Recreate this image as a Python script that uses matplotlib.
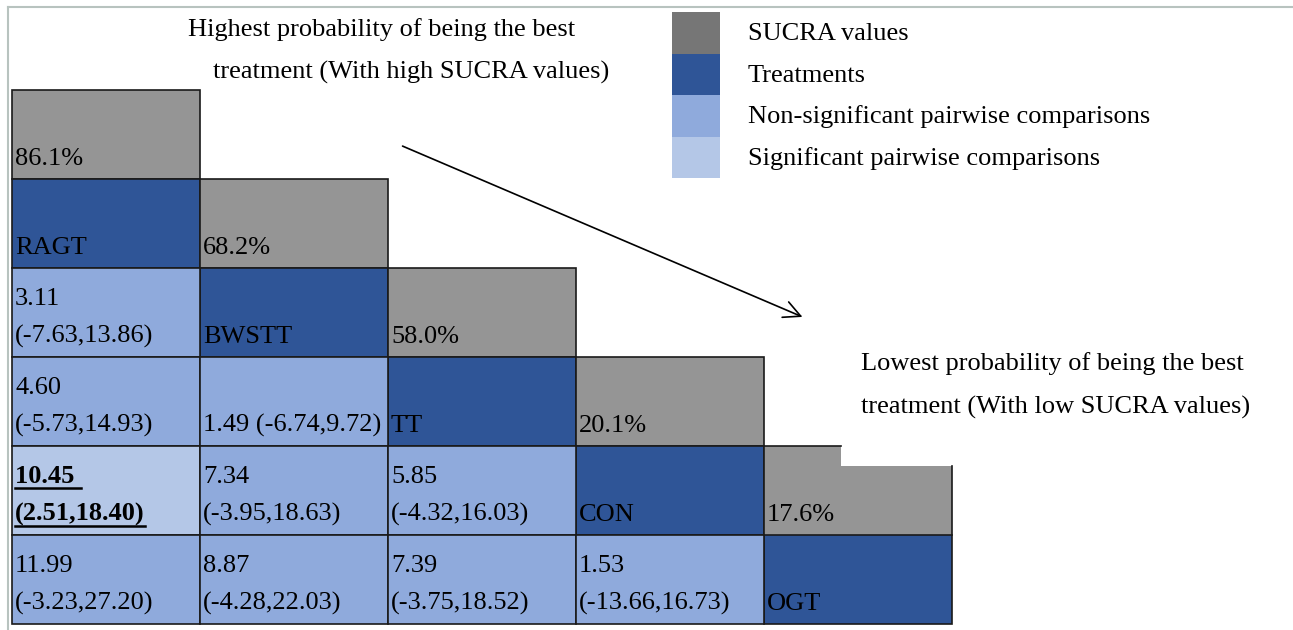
#League table (SUCRA + pairwise comparisons) drawn with matplotlib
import matplotlib.pyplot as plt
from matplotlib.patches import Rectangle, Polygon

plt.rcParams['font.family'] = ['Liberation Serif', 'DejaVu Serif']

#Data
treatments = ['RAGT', 'BWSTT', 'TT', 'CON', 'OGT']
sucra = ['86.1%', '68.2%', '58.0%', '20.1%', '17.6%']
#comparisons[(row, col)] = (mean, CI), row = treatment index, col = compared treatment
comparisons = {
    (1, 0): ('3.11', '(-7.63,13.86)'),
    (2, 0): ('4.60', '(-5.73,14.93)'),
    (2, 1): ('1.49 (-6.74,9.72)', None),
    (3, 0): ('10.45 ', '(2.51,18.40)'),
    (3, 1): ('7.34', '(-3.95,18.63)'),
    (3, 2): ('5.85', '(-4.32,16.03)'),
    (4, 0): ('11.99', '(-3.23,27.20)'),
    (4, 1): ('8.87', '(-4.28,22.03)'),
    (4, 2): ('7.39', '(-3.75,18.52)'),
    (4, 3): ('1.53', '(-13.66,16.73)'),
}
significant = [(3, 0)]
legend_labels = ['SUCRA values', 'Treatments',
                 'Non-significant pairwise comparisons', 'Significant pairwise comparisons']

#colours
c_sucra = '#959595'
c_sucra_leg = '#767676'
c_treat = '#2F5597'
c_nonsig = '#8FAADC'
c_sig = '#B4C7E7'

fig = plt.figure(figsize=(12.93, 6.30), dpi=100)
ax = fig.add_axes([0, 0, 1, 1])
ax.set_xlim(0, 1293)
ax.set_ylim(630, 0)
ax.axis('off')

x0, y0 = 12, 90
w, h = 188, 89
fs = 19

def cell(r, c, color):
    ax.add_patch(Rectangle((x0 + c * w, y0 + r * h), w, h, facecolor=color,
                           edgecolor='#1a1a1a', linewidth=1.2))

def cell_text(r, c, lines, bold=False):
    left = x0 + c * w + 3
    bottom = y0 + (r + 1) * h
    objs = []
    for k, line in enumerate(reversed(lines)):
        t = ax.text(left, bottom - 14 - k * 38, line, fontsize=fs, va='baseline', ha='left',
                    fontweight='bold' if bold else 'normal', color='black')
        objs.append(t)
    return objs

#SUCRA cells (row i, col i) and treatment cells (row i+1, col i)
for i, t in enumerate(treatments):
    if i < len(treatments) - 1:
        cell(i, i, c_sucra)
    else:
        #last sucra cell has a notch in the top right
        xl = x0 + i * w
        yt = y0 + i * h
        ax.add_patch(Polygon([(xl, yt), (xl + 77, yt), (xl + 77, yt + 20), (xl + w, yt + 20),
                              (xl + w, yt + h), (xl, yt + h)], closed=True,
                             facecolor=c_sucra, edgecolor='none'))
        ax.plot([xl, xl + 77], [yt, yt], color='#1a1a1a', lw=1.2)
        ax.plot([xl + w, xl + w], [yt + 20, yt + h], color='#1a1a1a', lw=1.2)
        ax.plot([xl, xl], [yt, yt + h], color='#1a1a1a', lw=1.2)
    cell_text(i, i, [sucra[i]])
    cell(i + 1, i, c_treat)
    cell_text(i + 1, i, [t])

#pairwise comparisons
underline = []
for (r, c), (m, ci) in comparisons.items():
    sig = (r, c) in significant
    cell(r + 1, c, c_sig if sig else c_nonsig)
    lines = [m] if ci is None else [m, ci]
    objs = cell_text(r + 1, c, lines, bold=sig)
    if sig:
        underline += objs

#legend squares
for k, (lab, col) in enumerate(zip(legend_labels, [c_sucra_leg, c_treat, c_nonsig, c_sig])):
    ax.add_patch(Rectangle((672, 12 + k * 41.5), 48, 41.5, facecolor=col, edgecolor='none'))
    ax.text(748, 34 + k * 41.5, lab, fontsize=fs, va='center', ha='left')

#annotations
ax.text(188, 30, 'Highest probability of being the best', fontsize=fs, va='center', ha='left')
ax.text(213, 72, 'treatment (With high SUCRA values)', fontsize=fs, va='center', ha='left')
ax.text(861, 364, 'Lowest probability of being the best', fontsize=fs, va='center', ha='left')
ax.text(861, 407, 'treatment (With low SUCRA values)', fontsize=fs, va='center', ha='left')
ax.annotate('', xy=(805, 318), xytext=(400, 145),
            arrowprops=dict(arrowstyle='->', color='black', lw=1.2, mutation_scale=30))

#thin frame on top and left
ax.plot([8, 1293], [7, 7], color='#b8c3bf', lw=1.5)
ax.plot([8, 8], [7, 630], color='#b8c3bf', lw=1.5)

#underline the significant comparison
fig.canvas.draw()
inv = ax.transData.inverted()
for t in underline:
    bb = t.get_window_extent()
    (xa, ya), (xb, yb) = inv.transform([[bb.x0, bb.y0], [bb.x1, bb.y1]])
    base = t.get_position()[1] + 5
    ax.plot([xa, xb], [base, base], color='black', lw=1.8)

fig.savefig('out.png', dpi=100)
